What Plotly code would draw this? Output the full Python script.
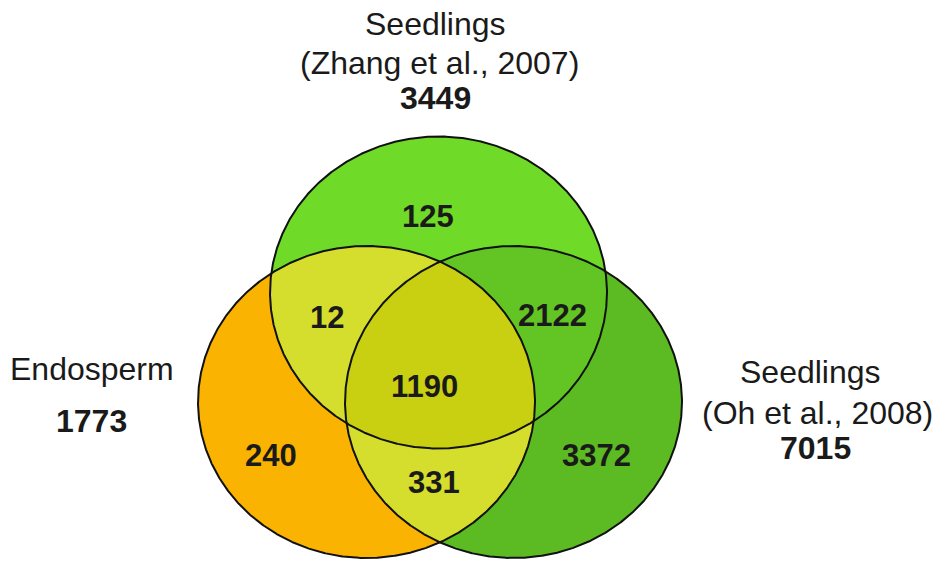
import numpy as np
import plotly.graph_objects as go

# ---------------- data ----------------
set_names = ["Seedlings<br>(Zhang et al., 2007)", "Endosperm", "Seedlings<br>(Oh et al., 2008)"]
set_totals = [3449, 1773, 7015]
# region counts
only_zhang = 125
only_endo = 240
only_oh = 3372
zhang_endo = 12
zhang_oh = 2122
endo_oh = 331
all_three = 1190

# ---------------- geometry / style (pixel space) ----------------
RX, RY = 168.5, 156.0
CENTERS = {"T": (438.5, 292.5), "L": (366.5, 402.0), "R": (513.5, 402.0)}
COL = {
    "T": "#6FDA27", "L": "#FAB300", "R": "#5CBA22",
    "TL": "#D5DE2C", "LR": "#D5DE2C", "TR": "#63C523", "TLR": "#C9D012",
}
FONT = "Liberation Sans, Arial, sans-serif"
TXT = "#1a1a1a"


def ellipse_pts(key, n=1440):
    cx, cy = CENTERS[key]
    t = np.linspace(0, 2 * np.pi, n, endpoint=False)
    return cx + RX * np.cos(t), cy + RY * np.sin(t)


def inside(x, y, key):
    cx, cy = CENTERS[key]
    return ((x - cx) / RX) ** 2 + ((y - cy) / RY) ** 2 <= 1 + 1e-9


def intersection(keys):
    xs, ys = [], []
    for k in keys:
        x, y = ellipse_pts(k)
        m = np.ones_like(x, dtype=bool)
        for o in keys:
            if o != k:
                m &= inside(x, y, o)
        xs.append(x[m]); ys.append(y[m])
    x = np.concatenate(xs); y = np.concatenate(ys)
    mx, my = x.mean(), y.mean()
    order = np.argsort(np.arctan2(y - my, x - mx))
    x, y = x[order], y[order]
    return np.append(x, x[0]), np.append(y, y[0])


fig = go.Figure()


def add_fill(x, y, color):
    fig.add_trace(go.Scatter(x=x, y=y, mode="lines", fill="toself", fillcolor=color,
                             line=dict(width=0, color=color), hoverinfo="skip", showlegend=False))


for k in ["L", "T", "R"]:
    x, y = ellipse_pts(k)
    add_fill(np.append(x, x[0]), np.append(y, y[0]), COL[k])
for keys, ck in [(("T", "L"), "TL"), (("L", "R"), "LR"), (("T", "R"), "TR"), (("T", "L", "R"), "TLR")]:
    x, y = intersection(keys)
    add_fill(x, y, COL[ck])
for k in ["L", "T", "R"]:
    x, y = ellipse_pts(k)
    fig.add_trace(go.Scatter(x=np.append(x, x[0]), y=np.append(y, y[0]), mode="lines",
                             line=dict(color="#111111", width=2), hoverinfo="skip", showlegend=False))

region_labels = [
    (only_zhang, 428, 216), (zhang_endo, 327, 317), (zhang_oh, 552, 315),
    (all_three, 424, 386), (only_endo, 271, 455), (only_oh, 596, 455), (endo_oh, 434, 482),
]
ann = []
for val, x, y in region_labels:
    ann.append(dict(x=x, y=y, text=f"<b>{val}</b>", showarrow=False,
                    font=dict(family=FONT, size=31, color=TXT), xanchor="center", yanchor="middle"))

# set titles
title_lines = [
    ("Seedlings", 435, 24, False), ("(Zhang et al., 2007)", 439, 63, False), (str(set_totals[0]), 435, 98, True),
    ("Endosperm", 92, 369, False), (str(set_totals[1]), 91, 421, True),
    ("Seedlings", 810, 372, False), ("(Oh et al., 2008)", 817, 413, False), (str(set_totals[2]), 815, 448, True),
]
for txt, x, y, bold in title_lines:
    ann.append(dict(x=x, y=y, text=(f"<b>{txt}</b>" if bold else txt), showarrow=False,
                    font=dict(family=FONT, size=32, color=TXT), xanchor="center", yanchor="middle"))

fig.update_layout(
    width=935, height=561, margin=dict(l=0, r=0, t=0, b=0),
    paper_bgcolor="white", plot_bgcolor="white",
    xaxis=dict(range=[0, 935], visible=False, fixedrange=True),
    yaxis=dict(range=[561, 0], visible=False, fixedrange=True),
    annotations=ann, showlegend=False,
)
fig.write_html("out.html", config={"displayModeBar": False},
               post_script="document.body.style.margin='0px';document.body.style.overflow='hidden';")
